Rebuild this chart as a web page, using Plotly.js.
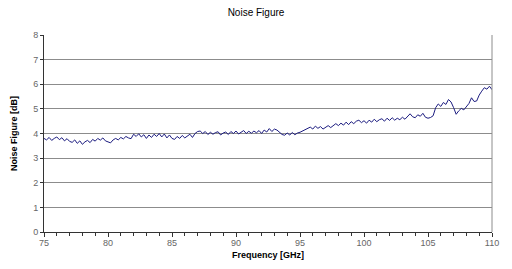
<!DOCTYPE html>
<html><head><meta charset="utf-8">
<script src="https://cdn.plot.ly/plotly-3.0.1.min.js"></script>
<style>html,body{margin:0;padding:0;background:#fff}#c{width:512px;height:269px}</style>
</head><body><div id="c"></div>
<script>
const freqStart = 75.0, freqStep = 0.2;
const noiseFigure = [
3.80,3.74,3.84,3.72,3.80,3.86,3.75,3.83,3.70,3.79,3.68,
3.64,3.74,3.60,3.70,3.56,3.66,3.72,3.63,3.76,3.69,
3.80,3.73,3.82,3.70,3.67,3.62,3.74,3.80,3.74,3.84,
3.78,3.88,3.82,3.79,3.97,3.88,3.99,3.86,3.95,3.80,
3.94,3.84,3.97,3.88,4.00,3.86,3.98,3.82,3.94,3.80,
3.76,3.88,3.80,3.92,3.82,3.90,3.97,3.84,4.00,4.08,
4.10,4.00,4.08,3.96,4.05,3.97,4.04,4.07,3.94,4.02,
4.06,3.96,4.08,4.00,4.10,3.98,4.06,4.12,4.00,4.09,
4.01,4.10,4.03,4.12,4.00,4.14,4.06,4.20,4.08,4.18,
4.14,4.04,3.96,3.93,4.02,3.94,4.04,3.95,4.02,4.05,
4.10,4.16,4.20,4.26,4.18,4.30,4.21,4.28,4.18,4.26,
4.32,4.24,4.34,4.40,4.32,4.42,4.34,4.46,4.36,4.48,
4.40,4.50,4.54,4.44,4.52,4.42,4.54,4.46,4.58,4.48,
4.56,4.60,4.50,4.62,4.53,4.64,4.54,4.62,4.56,4.66,
4.58,4.70,4.80,4.68,4.64,4.76,4.70,4.82,4.66,4.62,
4.65,4.72,5.05,5.20,5.10,5.26,5.18,5.38,5.28,5.05,
4.78,4.92,5.02,4.96,5.08,5.22,5.45,5.30,5.32,5.56,
5.72,5.86,5.80,5.92,5.78
];
const frequency = noiseFigure.map((_, i) => +(freqStart + i * freqStep).toFixed(1));
const xTickVals = [75, 80, 85, 90, 95, 100, 105, 110];
const yTickVals = [0, 1, 2, 3, 4, 5, 6, 7, 8];

const font = "Liberation Sans, Arial, sans-serif";
Plotly.newPlot('c', [{
  x: frequency, y: noiseFigure, type: 'scatter', mode: 'lines',
  line: {color: '#1c1c80', width: 1}, hoverinfo: 'skip'
}], {
  width: 512, height: 269,
  margin: {l: 44, r: 20, t: 35, b: 37},
  paper_bgcolor: '#fff', plot_bgcolor: '#fff',
  showlegend: false,
  title: {text: 'Noise Figure', font: {family: font, size: 10, color: '#000'}, x: 0.5, xanchor: 'center', y: 0.955, yanchor: 'middle'},
  xaxis: {
    range: [75, 110], tickvals: xTickVals, ticktext: xTickVals.map(String),
    showgrid: false, zeroline: false, showline: true, linecolor: '#333', linewidth: 1,
    mirror: false, ticks: 'outside', ticklen: 4, tickcolor: '#333',
    ticklabelstandoff: -2,
    minor: {dtick: 1, ticks: 'outside', ticklen: 3, tickcolor: '#333', showgrid: false},
    tickfont: {family: font, size: 9, color: '#666'},
    title: {text: '<b>Frequency [GHz]</b>', font: {family: font, size: 9, color: '#000'}, standoff: 4}
  },
  yaxis: {
    range: [0, 8], tickvals: yTickVals, ticktext: yTickVals.map(String),
    showgrid: true, gridcolor: '#8c8c8c', gridwidth: 1, zeroline: false,
    showline: true, linecolor: '#333', linewidth: 1,
    ticks: 'outside', ticklen: 3, tickcolor: '#333',
    tickfont: {family: font, size: 9, color: '#666'},
    title: {text: '<b>Noise Figure [dB]</b>', font: {family: font, size: 9, color: '#000'}, standoff: 14}
  },
  shapes: [
    {type: 'line', xref: 'paper', yref: 'paper', x0: 1, x1: 1, y0: 0, y1: 1, line: {color: '#8c8c8c', width: 1}}
  ]
}, {staticPlot: true, displayModeBar: false});
</script>
</body></html>
